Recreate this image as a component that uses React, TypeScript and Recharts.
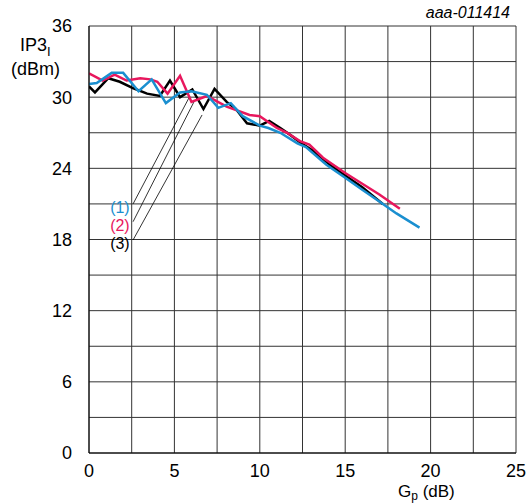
import React from 'react';
import { LineChart, Line, XAxis, YAxis, CartesianGrid, ReferenceLine, ReferenceDot } from 'recharts';

// curve (1), blue
const gainBlue = [0, 0.45, 1.33, 2.0, 2.9, 3.67, 4.5, 5.33, 6.0, 6.9, 7.57, 8.3, 9.0, 10.0, 10.5, 11.2, 12.2, 12.7, 13.9, 15.0, 16.0, 17.0, 18.0, 19.35];
const ip3Blue = [31.1, 31.2, 32.05, 32.05, 30.5, 31.5, 29.5, 30.4, 30.5, 30.2, 29.1, 29.5, 28.4, 27.6, 27.4, 27.0, 26.1, 25.8, 24.3, 23.2, 22.2, 21.2, 20.2, 19.0];

// curve (2), red
const gainRed = [0, 0.8, 1.5, 2.2, 3.0, 3.6, 4.0, 4.6, 5.33, 6.0, 6.9, 8.06, 9.4, 10.0, 11.0, 11.6, 12.35, 12.9, 13.7, 15.0, 16.0, 17.0, 18.2];
const ip3Red = [32.0, 31.4, 31.9, 31.4, 31.6, 31.5, 31.3, 30.3, 31.8, 29.6, 30.1, 29.2, 28.5, 28.4, 27.4, 27.0, 26.3, 26.0, 24.9, 23.6, 22.7, 21.8, 20.6];

// curve (3), black
const gainBlack = [0, 0.35, 1.13, 1.8, 2.6, 3.4, 4.15, 4.74, 5.33, 6.05, 6.7, 7.35, 8.06, 8.6, 9.25, 10.0, 10.55, 11.2, 11.8, 12.55, 13.1, 14.1, 15.0, 16.0, 17.2];
const ip3Black = [30.9, 30.4, 31.6, 31.3, 30.75, 30.3, 30.1, 31.4, 30.0, 30.65, 29.0, 30.7, 29.6, 29.0, 27.8, 27.6, 28.0, 27.4, 26.8, 26.0, 25.5, 24.3, 23.4, 22.4, 21.0];

const xTicks = [0, 2.5, 5, 7.5, 10, 12.5, 15, 17.5, 20, 22.5, 25];
const yTicks = [0, 3, 6, 9, 12, 15, 18, 21, 24, 27, 30, 33, 36];

const toPoints = (xs: number[], ys: number[]) => xs.map((x, i) => ({ x, y: ys[i] }));

const BLUE = '#1a8fd0';
const RED = '#e8175d';
const BLACK = '#000000';
const FONT = '"Liberation Sans", Arial, sans-serif';

// leader lines from labels to curves
const leaders = [
    { from: { x: 2.58, y: 21.0 }, to: { x: 5.91, y: 30.1 } },
    { from: { x: 2.58, y: 19.5 }, to: { x: 6.2, y: 29.76 } },
    { from: { x: 2.58, y: 17.96 }, to: { x: 6.62, y: 28.5 } },
];
const labels = [
    { text: '(1)', y: 20.7, color: BLUE },
    { text: '(2)', y: 19.2, color: RED },
    { text: '(3)', y: 17.65, color: BLACK },
];

export default function App() {
    return (
        <div style={{ position: 'absolute', left: 0, top: 0, width: 529, height: 503, background: '#fff', fontFamily: FONT }}>
            <LineChart width={529} height={503} margin={{ top: 26, right: 13, bottom: 20, left: 59 }}>
                <CartesianGrid stroke="#333" strokeWidth={1} />
                <XAxis
                    type="number"
                    dataKey="x"
                    domain={[0, 25]}
                    ticks={xTicks}
                    height={30}
                    tickFormatter={(v: number) => (v % 5 === 0 ? String(v) : '')}
                    tickLine={false}
                    axisLine={{ stroke: '#000' }}
                    tick={{ fill: '#000', fontSize: 18, fontFamily: FONT }}
                    tickMargin={5}
                    allowDataOverflow
                />
                <YAxis
                    type="number"
                    domain={[0, 36]}
                    ticks={yTicks}
                    width={30}
                    tickFormatter={(v: number) => (v % 6 === 0 ? String(v) : '')}
                    tickLine={false}
                    axisLine={{ stroke: '#000' }}
                    tick={{ fill: '#000', fontSize: 18, fontFamily: FONT }}
                    tickMargin={11}
                />
                {leaders.map((l, i) => (
                    <ReferenceLine key={i} segment={[l.from, l.to]} stroke="#000" strokeWidth={0.8} ifOverflow="visible" />
                ))}
                {labels.map((l) => (
                    <ReferenceDot
                        key={l.text}
                        x={2.5}
                        y={l.y}
                        r={0}
                        stroke="none"
                        fill="none"
                        label={{ value: l.text, position: 'left', offset: 2, fill: l.color, fontSize: 16, fontFamily: FONT }}
                    />
                ))}
                <Line data={toPoints(gainBlack, ip3Black)} dataKey="y" stroke={BLACK} strokeWidth={2.5} dot={false} isAnimationActive={false} />
                <Line data={toPoints(gainRed, ip3Red)} dataKey="y" stroke={RED} strokeWidth={2.5} dot={false} isAnimationActive={false} />
                <Line data={toPoints(gainBlue, ip3Blue)} dataKey="y" stroke={BLUE} strokeWidth={2.5} dot={false} isAnimationActive={false} />
            </LineChart>
            <div style={{ position: 'absolute', right: 19, top: 4, fontSize: 16, fontStyle: 'italic' }}>aaa-011414</div>
            <div style={{ position: 'absolute', left: 20, top: 35, fontSize: 18 }}>
                IP3<sub style={{ fontSize: 13 }}>I</sub>
            </div>
            <div style={{ position: 'absolute', left: 11, top: 59, fontSize: 18 }}>(dBm)</div>
            <div style={{ position: 'absolute', left: 398, top: 483, fontSize: 17, lineHeight: '17px', whiteSpace: 'nowrap' }}>
                G<span style={{ fontSize: 12, position: 'relative', top: 3 }}>p</span> (dB)
            </div>
        </div>
    );
}
